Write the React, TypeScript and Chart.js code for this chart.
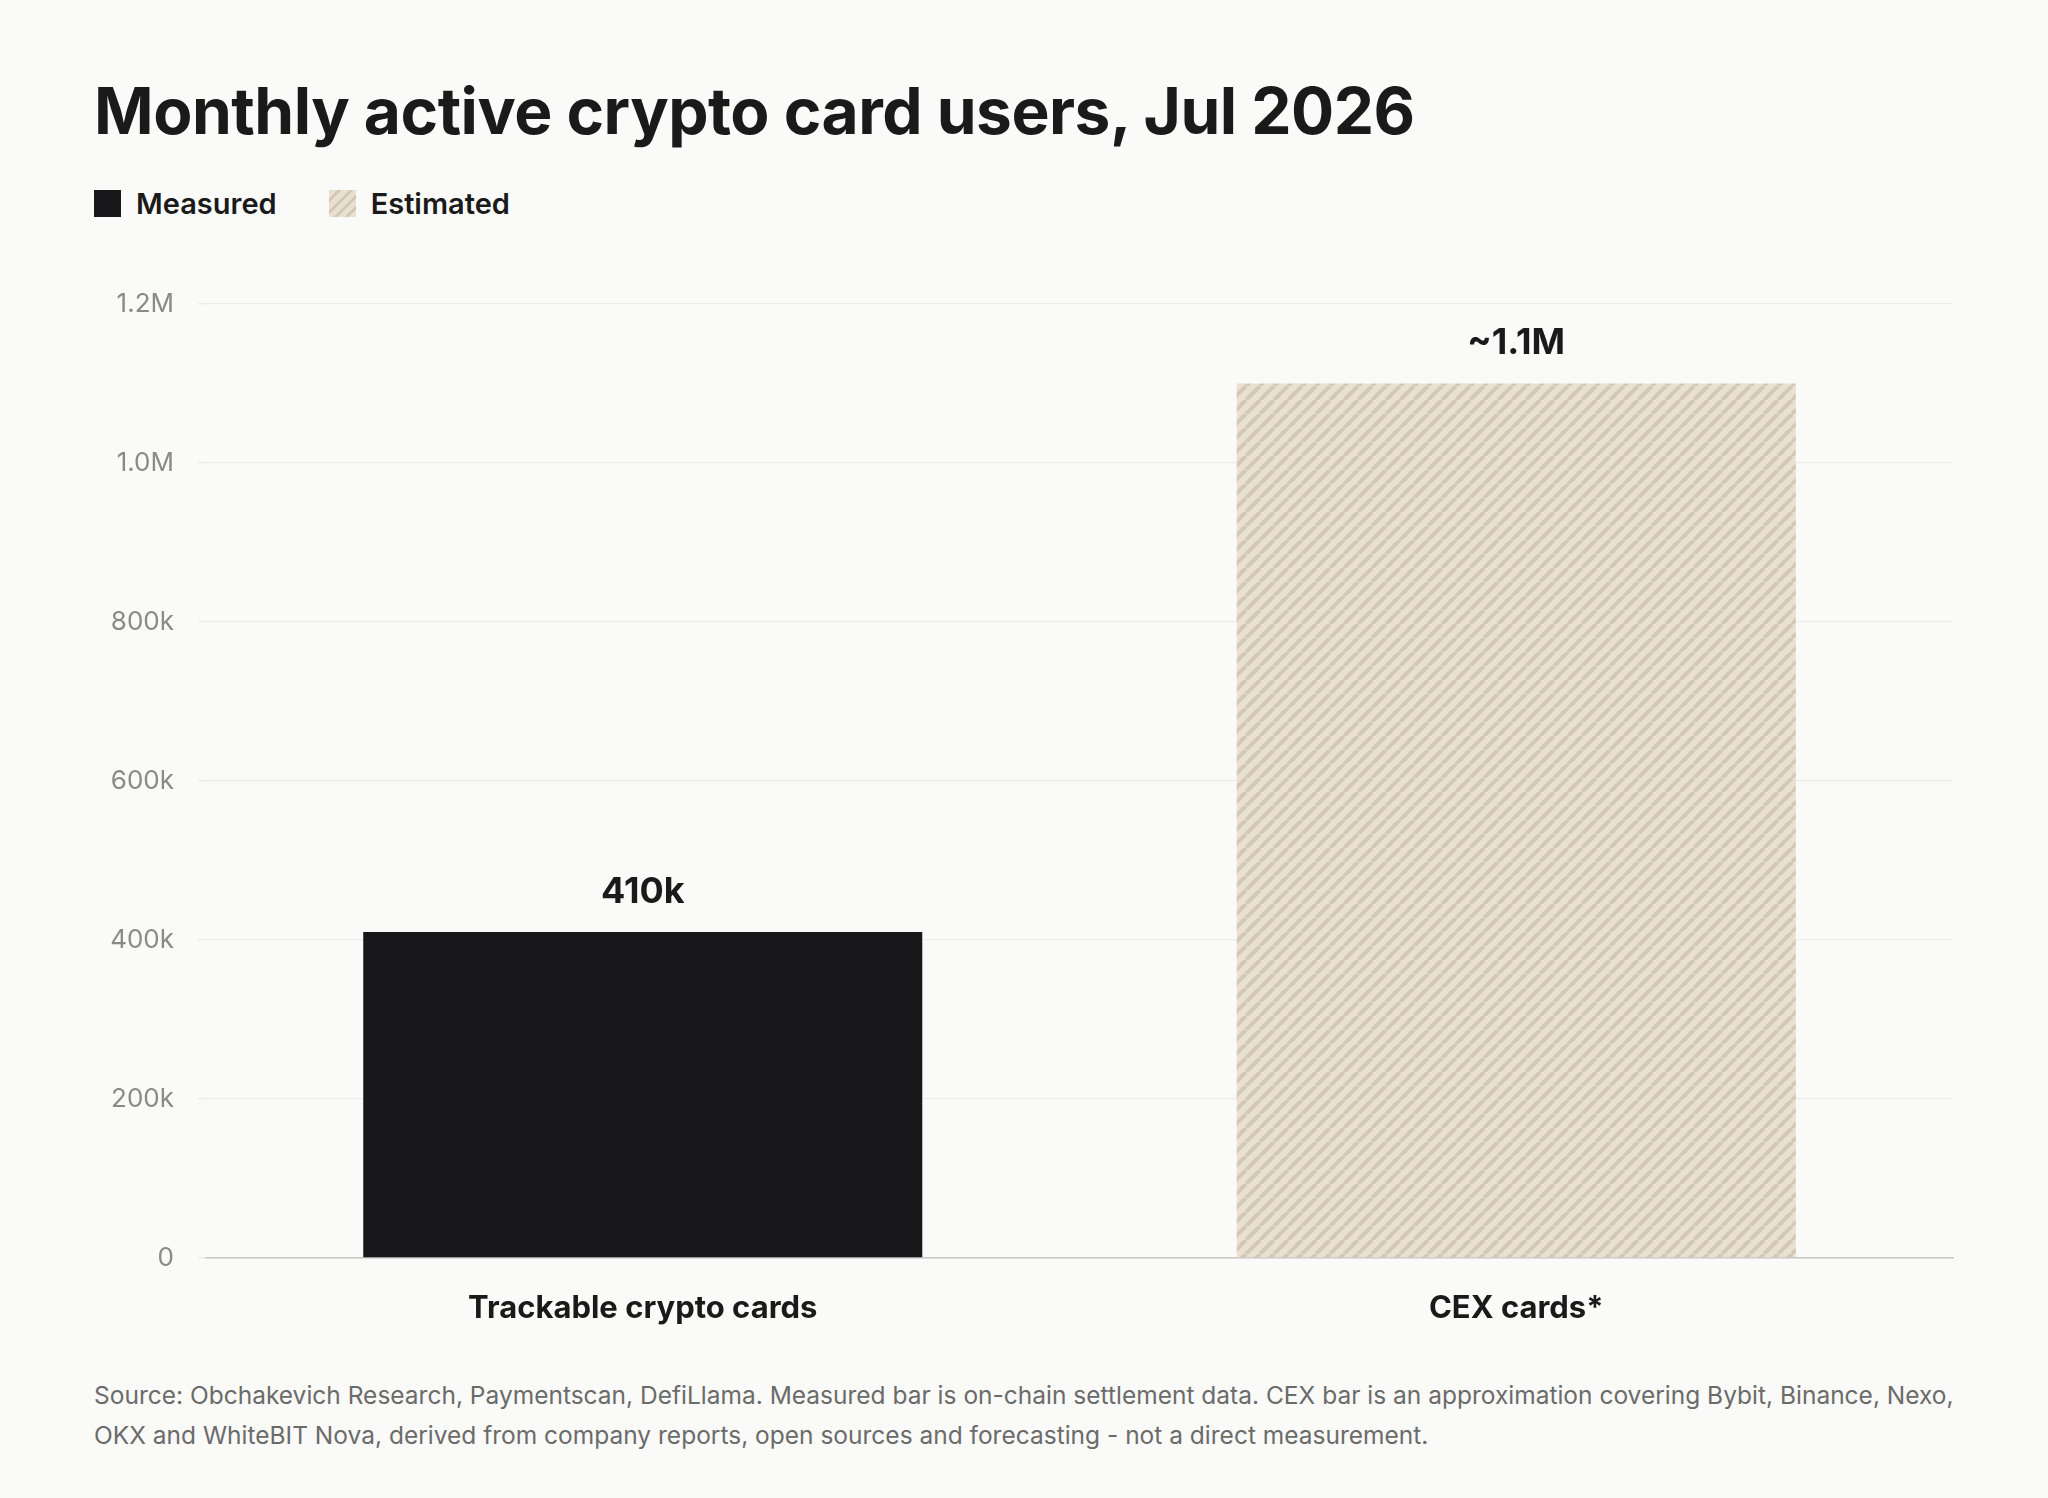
import React, { useEffect, useRef } from "react";
import { Chart, registerables } from "chart.js";
Chart.register(...registerables);

const categories = ["Trackable crypto cards", "CEX cards*"];
const values = [410000, 1100000];
const valueLabels = ["410k", "~1.1M"];
const kinds = ["Measured", "Estimated"];

const FONT = "Inter, 'Noto Sans', sans-serif";

function hatch(): CanvasPattern | string {
  const c = document.createElement("canvas");
  const s = 14;
  c.width = s; c.height = s;
  const g = c.getContext("2d")!;
  g.fillStyle = "#e9e0d1";
  g.fillRect(0, 0, s, s);
  g.strokeStyle = "#d3c8b3";
  g.lineWidth = 4;
  for (const o of [-s, 0, s]) {
    g.beginPath();
    g.moveTo(o, s);
    g.lineTo(o + s, 0);
    g.stroke();
  }
  return g.createPattern(c, "repeat") || "#e9e0d1";
}

export default function App() {
  const ref = useRef<HTMLCanvasElement>(null);
  useEffect(() => {
    document.body.style.margin = "0";
    const pat = hatch();
    const labelPlugin = {
      id: "vals",
      afterDatasetsDraw(chart: any) {
        const ctx = chart.ctx;
        const meta = chart.getDatasetMeta(0);
        ctx.save();
        ctx.font = `700 36px ${FONT}`;
        ctx.fillStyle = "#1a1a1a";
        ctx.textAlign = "center";
        ctx.textBaseline = "bottom";
        meta.data.forEach((b: any, i: number) => ctx.fillText(valueLabels[i], b.x, b.y - 22));
        ctx.restore();
      },
    };
    const chart = new Chart(ref.current!, {
      type: "bar",
      data: {
        labels: categories,
        datasets: [{
          data: values,
          backgroundColor: kinds.map((k) => (k === "Measured" ? "#18181a" : pat)) as any,
          barPercentage: 0.64,
          categoryPercentage: 1,
        }],
      },
      options: {
        animation: false,
        responsive: false,
        layout: { padding: { left: 0, right: 95, top: 44, bottom: 0 } },
        plugins: { legend: { display: false }, tooltip: { enabled: false } },
        scales: {
          x: {
            grid: { display: false },
            border: { color: "#c8c8c6", width: 1.5 },
            ticks: { color: "#1a1a1a", font: { family: FONT, size: 31, weight: "bold" }, padding: 24 },
            afterFit: (s: any) => { s.height = 102; },
          },
          y: {
            min: 0, max: 1200000,
            border: { display: false },
            grid: { color: "#ebebe8", lineWidth: 1.3 },
            ticks: {
              stepSize: 200000, padding: 24, color: "#8a8a88",
              font: { family: FONT, size: 26 },
              callback: (v: any) => (v === 0 ? "0" : v >= 1000000 ? (v / 1000000).toFixed(1) + "M" : v / 1000 + "k"),
            },
            afterFit: (s: any) => { s.width = 206; },
          },
        },
      },
      plugins: [labelPlugin],
    });
    return () => chart.destroy();
  }, []);

  return (
    <div style={{ position: "relative", width: 2048, height: 1498, background: "#fafaf9", fontFamily: FONT, color: "#1a1a1a", overflow: "hidden" }}>
      <div style={{ position: "absolute", left: 94, top: 72, fontSize: 64, fontWeight: 700, letterSpacing: -0.5 }}>
        Monthly active crypto card users, Jul 2026
      </div>
      <div style={{ position: "absolute", left: 94, top: 186, display: "flex", alignItems: "center", fontSize: 29, fontWeight: 600 }}>
        <span style={{ width: 27, height: 27, background: "#18181a", display: "inline-block", marginRight: 15 }} />
        <span style={{ marginRight: 52 }}>{kinds[0]}</span>
        <span style={{ width: 27, height: 27, display: "inline-block", marginRight: 15, background: "repeating-linear-gradient(-45deg, #e9e0d1 0 5px, #d3c8b3 5px 8px)" }} />
        <span>{kinds[1]}</span>
      </div>
      <canvas ref={ref} width={2048} height={1100} style={{ position: "absolute", left: 0, top: 260 }} />
      <div style={{ position: "absolute", left: 94, top: 1375, width: 1860, fontSize: 24.5, lineHeight: "40px", color: "#6b6b69" }}>
        Source: Obchakevich Research, Paymentscan, DefiLlama. Measured bar is on-chain settlement data. CEX bar is an approximation covering Bybit, Binance, Nexo, OKX and WhiteBIT Nova, derived from company reports, open sources and forecasting - not a direct measurement.
      </div>
    </div>
  );
}
